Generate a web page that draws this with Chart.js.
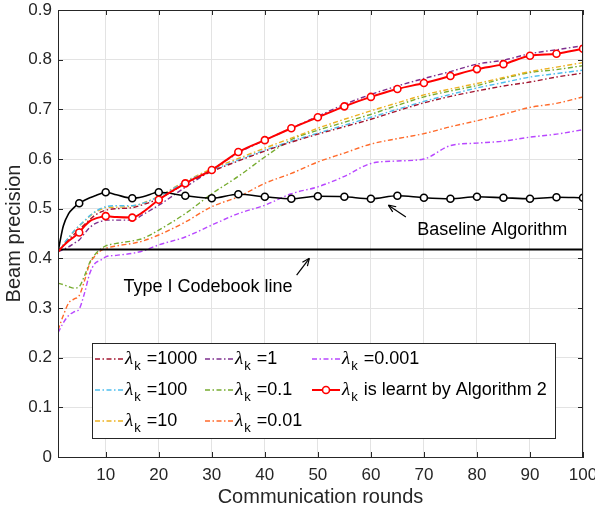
<!DOCTYPE html>
<html>
<head>
<meta charset="utf-8">
<script src="https://cdn.jsdelivr.net/npm/chart.js@4.4.1/dist/chart.umd.min.js"></script>
<style>
  body { margin: 0; background: #fff; }
</style>
</head>
<body>
<canvas id="myChart" width="595" height="514"></canvas>
<script>
var rounds = [1, 2, 3, 4, 5, 6, 7, 8, 9, 10, 12, 15, 17, 20, 25, 30, 35, 40, 45, 50, 55, 60, 65, 70, 75, 80, 85, 90, 95, 100];

var lam1000 = [0.413, 0.425, 0.437, 0.448, 0.458, 0.468, 0.478, 0.487, 0.493, 0.497, 0.500, 0.502, 0.508, 0.520, 0.550, 0.575, 0.596, 0.616, 0.634, 0.650, 0.665, 0.680, 0.697, 0.713, 0.726, 0.737, 0.747, 0.755, 0.765, 0.773];
var lam100 = [0.413, 0.428, 0.442, 0.455, 0.466, 0.476, 0.486, 0.494, 0.500, 0.504, 0.506, 0.506, 0.511, 0.524, 0.554, 0.577, 0.598, 0.618, 0.636, 0.652, 0.668, 0.684, 0.700, 0.716, 0.730, 0.743, 0.754, 0.765, 0.772, 0.779];
var lam10 = [0.413, 0.427, 0.441, 0.454, 0.465, 0.475, 0.485, 0.493, 0.498, 0.502, 0.503, 0.505, 0.511, 0.525, 0.555, 0.580, 0.601, 0.622, 0.642, 0.662, 0.680, 0.697, 0.713, 0.729, 0.741, 0.752, 0.764, 0.776, 0.785, 0.794];
var lam1 = [0.413, 0.418, 0.423, 0.430, 0.437, 0.450, 0.462, 0.470, 0.474, 0.477, 0.477, 0.477, 0.488, 0.507, 0.543, 0.578, 0.612, 0.638, 0.662, 0.686, 0.710, 0.730, 0.747, 0.762, 0.776, 0.791, 0.799, 0.812, 0.820, 0.828];
var lam01 = [0.350, 0.347, 0.343, 0.340, 0.343, 0.365, 0.392, 0.408, 0.418, 0.425, 0.430, 0.435, 0.440, 0.457, 0.490, 0.530, 0.565, 0.604, 0.639, 0.658, 0.674, 0.690, 0.708, 0.725, 0.737, 0.748, 0.762, 0.774, 0.780, 0.788];
var lam001 = [0.255, 0.285, 0.310, 0.318, 0.325, 0.355, 0.390, 0.405, 0.415, 0.420, 0.425, 0.430, 0.435, 0.447, 0.473, 0.504, 0.524, 0.551, 0.571, 0.594, 0.612, 0.630, 0.641, 0.651, 0.665, 0.677, 0.690, 0.704, 0.712, 0.725];
var lam0001 = [0.250, 0.270, 0.285, 0.292, 0.298, 0.330, 0.370, 0.390, 0.396, 0.403, 0.406, 0.410, 0.415, 0.427, 0.443, 0.467, 0.490, 0.507, 0.530, 0.544, 0.565, 0.591, 0.596, 0.600, 0.627, 0.632, 0.636, 0.644, 0.650, 0.659];
var learnt = [0.413, 0.425, 0.435, 0.443, 0.452, 0.465, 0.475, 0.480, 0.483, 0.485, 0.483, 0.482, 0.493, 0.518, 0.551, 0.578, 0.614, 0.638, 0.662, 0.684, 0.706, 0.725, 0.741, 0.753, 0.767, 0.781, 0.791, 0.808, 0.812, 0.822];
var baseline = [0.413, 0.465, 0.490, 0.502, 0.511, 0.517, 0.522, 0.526, 0.530, 0.533, 0.528, 0.521, 0.524, 0.533, 0.526, 0.521, 0.529, 0.524, 0.520, 0.525, 0.524, 0.520, 0.526, 0.522, 0.520, 0.524, 0.522, 0.520, 0.523, 0.522];
var codebookLevel = 0.418;

var lamLabels = ['=1000', '=100', '=10', '=1', '=0.1', '=0.01', '=0.001'];
var learntLabel = 'is learnt by Algorithm 2';
var xTicks = [10, 20, 30, 40, 50, 60, 70, 80, 90, 100];
var yTicks = [0, 0.1, 0.2, 0.3, 0.4, 0.5, 0.6, 0.7, 0.8, 0.9];

// styles
var lamColors = ['#A2142F', '#4DBEEE', '#EDB120', '#7E2F8E', '#77AC30', '#FF6A2A', '#B847FF'];
var dashDot = [5, 2.5, 1.5, 2.5];
var FONT = '"Liberation Sans", Arial, sans-serif';
var axisColor = '#262626';

function pts(ys) {
  return rounds.map(function(r, i) { return { x: r, y: ys[i] }; });
}

var markerRadius = function(c) {
  return (c.raw && c.raw.x % 5 === 0) ? 3.5 : 0;
};

var lamSeries = [lam1000, lam100, lam10, lam1, lam01, lam001, lam0001];
var datasets = lamSeries.map(function(s, i) {
  return {
    label: 'lambda' + lamLabels[i],
    data: pts(s),
    borderColor: lamColors[i],
    borderWidth: 1.4,
    borderDash: dashDot,
    pointRadius: 0,
    cubicInterpolationMode: 'monotone',
    fill: false,
    order: 5
  };
});
datasets.push({
  label: 'learnt',
  data: pts(learnt),
  borderColor: '#FF0000',
  borderWidth: 2,
  pointRadius: markerRadius,
  pointBackgroundColor: '#fff',
  pointBorderColor: '#FF0000',
  pointBorderWidth: 1.6,
  cubicInterpolationMode: 'monotone',
  fill: false,
  order: 1
});
datasets.push({
  label: 'baseline',
  data: pts(baseline),
  borderColor: '#000',
  borderWidth: 1.6,
  pointRadius: markerRadius,
  pointBackgroundColor: '#fff',
  pointBorderColor: '#000',
  pointBorderWidth: 1.6,
  cubicInterpolationMode: 'monotone',
  fill: false,
  order: 2
});
datasets.push({
  label: 'codebook',
  data: [{ x: rounds[0], y: codebookLevel }, { x: rounds[rounds.length - 1], y: codebookLevel }],
  borderColor: '#000',
  borderWidth: 2,
  pointRadius: 0,
  fill: false,
  order: 3
});

function arrow(ctx, x1, y1, x2, y2) {
  var a = Math.atan2(y2 - y1, x2 - x1);
  ctx.beginPath();
  ctx.moveTo(x1, y1);
  ctx.lineTo(x2, y2);
  ctx.stroke();
  ctx.beginPath();
  ctx.moveTo(x2, y2);
  ctx.lineTo(x2 - 8 * Math.cos(a - 0.4), y2 - 8 * Math.sin(a - 0.4));
  ctx.moveTo(x2, y2);
  ctx.lineTo(x2 - 8 * Math.cos(a + 0.4), y2 - 8 * Math.sin(a + 0.4));
  ctx.stroke();
}

function lamText(ctx, x, y, rest) {
  ctx.textAlign = 'left';
  ctx.textBaseline = 'middle';
  ctx.font = 'italic 19px "Liberation Serif", serif';
  ctx.fillText('λ', x, y);
  var w = ctx.measureText('λ').width;
  ctx.font = '13px ' + FONT;
  ctx.fillText('k', x + w + 1, y + 7);
  var w2 = ctx.measureText('k').width;
  ctx.font = '18px ' + FONT;
  ctx.fillText(' ' + rest, x + w + w2 + 2, y);
}

var decorPlugin = {
  id: 'decor',
  afterDraw: function(chart) {
    var ctx = chart.ctx;
    var a = chart.chartArea;
    var xs = chart.scales.x, ys = chart.scales.y;
    ctx.save();
    // box + inner ticks
    ctx.strokeStyle = axisColor;
    ctx.lineWidth = 1;
    ctx.strokeRect(a.left + 0.5, a.top + 0.5, a.right - a.left - 1, a.bottom - a.top);
    ctx.beginPath();
    xTicks.forEach(function(v) {
      var px = Math.round(xs.getPixelForValue(v)) + 0.5;
      ctx.moveTo(px, a.bottom); ctx.lineTo(px, a.bottom - 5);
      ctx.moveTo(px, a.top); ctx.lineTo(px, a.top + 5);
    });
    yTicks.forEach(function(v) {
      var py = Math.round(ys.getPixelForValue(v)) + 0.5;
      ctx.moveTo(a.left, py); ctx.lineTo(a.left + 5, py);
      ctx.moveTo(a.right, py); ctx.lineTo(a.right - 5, py);
    });
    ctx.stroke();

    // annotations
    ctx.fillStyle = '#000';
    ctx.strokeStyle = '#000';
    ctx.lineWidth = 1.2;
    ctx.font = '18px ' + FONT;
    ctx.textAlign = 'center';
    ctx.textBaseline = 'middle';
    ctx.fillText('Baseline Algorithm', xs.getPixelForValue(82.9), ys.getPixelForValue(0.457));
    arrow(ctx, xs.getPixelForValue(66.6), ys.getPixelForValue(0.483), xs.getPixelForValue(63.3), ys.getPixelForValue(0.507));
    ctx.fillText('Type I Codebook line', xs.getPixelForValue(29.3), ys.getPixelForValue(0.342));
    arrow(ctx, xs.getPixelForValue(46), ys.getPixelForValue(0.366), xs.getPixelForValue(48.4), ys.getPixelForValue(0.4));

    // legend (3 rows, column-major)
    var lx = a.left + 34, ly = a.top + 333, lw = 463, lh = 95;
    ctx.fillStyle = '#fff';
    ctx.fillRect(lx, ly, lw, lh);
    ctx.strokeStyle = axisColor;
    ctx.lineWidth = 1;
    ctx.strokeRect(lx + 0.5, ly + 0.5, lw, lh);
    var colX = [lx + 3, lx + 113, lx + 220];
    var rowY = [ly + 16, ly + 47, ly + 78];
    var entries = lamLabels.map(function(t, i) { return { text: t, color: lamColors[i], dash: true }; });
    entries.push({ text: learntLabel, color: '#FF0000', dash: false });
    entries.forEach(function(e, i) {
      var cx = colX[Math.floor(i / 3)], cy = rowY[i % 3];
      ctx.strokeStyle = e.color;
      ctx.lineWidth = e.dash ? 1.4 : 2;
      ctx.setLineDash(e.dash ? dashDot : []);
      ctx.beginPath();
      ctx.moveTo(cx, cy); ctx.lineTo(cx + 28, cy);
      ctx.stroke();
      ctx.setLineDash([]);
      if (!e.dash) {
        ctx.fillStyle = '#fff';
        ctx.lineWidth = 1.6;
        ctx.beginPath();
        ctx.arc(cx + 14, cy, 3.5, 0, Math.PI * 2);
        ctx.fill(); ctx.stroke();
      }
      ctx.fillStyle = '#000';
      lamText(ctx, cx + 30, cy, e.text);
    });
    ctx.restore();
  }
};

var ctx = document.getElementById('myChart').getContext('2d');
var myChart = new Chart(ctx, {
  type: 'line',
  data: { datasets: datasets },
  plugins: [decorPlugin],
  options: {
    responsive: false,
    animation: false,
    devicePixelRatio: 1,
    layout: { padding: { left: 0, right: 12, top: 10, bottom: 0 } },
    plugins: { legend: { display: false }, tooltip: { enabled: false } },
    scales: {
      x: {
        type: 'linear',
        min: rounds[0],
        max: rounds[rounds.length - 1],
        afterBuildTicks: function(s) { s.ticks = xTicks.map(function(v) { return { value: v }; }); },
        afterFit: function(s) { s.height = 57; s.paddingLeft = 0; s.paddingRight = 0; },
        grid: { color: '#e3e3e3', drawTicks: false },
        border: { color: axisColor },
        ticks: { color: axisColor, font: { family: FONT, size: 17 }, padding: 8, maxRotation: 0 },
        title: { display: true, text: 'Communication rounds', color: axisColor, font: { family: FONT, size: 20 }, padding: { top: 0, bottom: 5 } }
      },
      y: {
        type: 'linear',
        min: 0,
        max: 0.9,
        afterBuildTicks: function(s) { s.ticks = yTicks.map(function(v) { return { value: v }; }); },
        afterFit: function(s) { s.width = 58; s.paddingTop = 0; s.paddingBottom = 0; },
        grid: { color: '#e3e3e3', drawTicks: false },
        border: { color: axisColor },
        ticks: {
          color: axisColor, font: { family: FONT, size: 17 }, padding: 6,
          callback: function(v) { return v === 0 ? '0' : v.toFixed(1); }
        },
        title: { display: true, text: 'Beam precision', color: axisColor, font: { family: FONT, size: 20 }, padding: { top: 2, bottom: 0 } }
      }
    }
  }
});
</script>
</body>
</html>
